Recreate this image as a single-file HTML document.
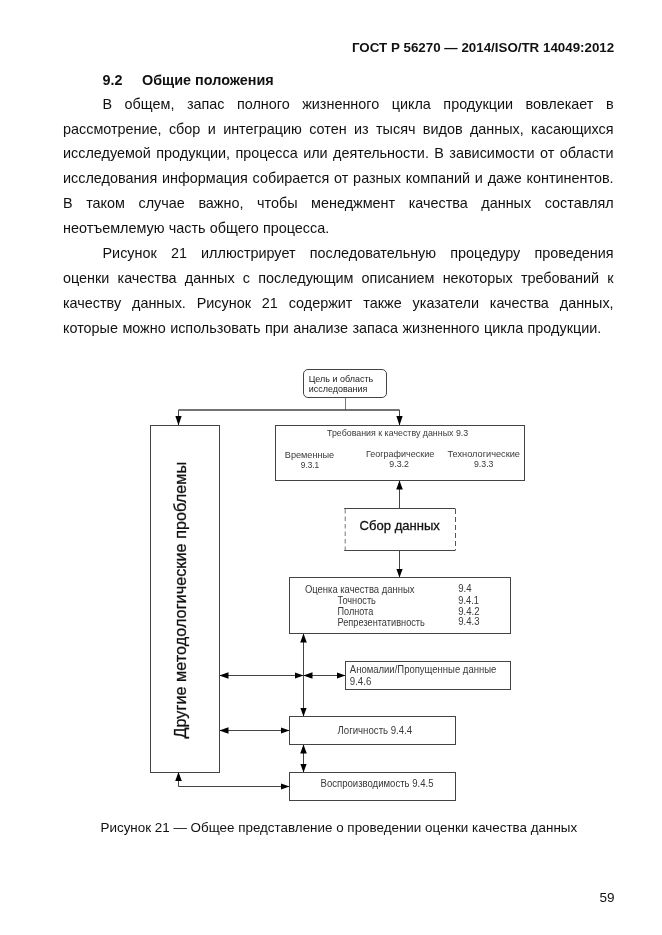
<!DOCTYPE html>
<html><head><meta charset="utf-8">
<style>
html,body{margin:0;padding:0;background:#fff;}
html{filter:grayscale(1);}
body{width:662px;height:935px;position:relative;overflow:hidden;font-family:"Liberation Sans",sans-serif;color:#111;}
.hdr{position:absolute;right:47.8px;top:40px;font-size:13.35px;font-weight:bold;line-height:16px;white-space:nowrap;}
.sec{position:absolute;left:102.5px;top:70.5px;font-size:14.4px;font-weight:bold;line-height:18px;white-space:nowrap;}
.sec span{position:absolute;left:39.5px;}
.txt{position:absolute;left:63px;top:0;width:550.6px;height:400px;font-size:14.4px;line-height:24.9px;text-align:justify;}
.txt div{position:absolute;left:0;right:0;text-align:justify;text-align-last:justify;white-space:nowrap;height:24.9px;}
.txt div.ind{padding-left:39.5px;}
.txt div.last{text-align-last:left;}
.cap{position:absolute;left:100.5px;top:820px;font-size:13.42px;line-height:16px;white-space:nowrap;}
.pg{position:absolute;right:47.6px;top:890px;font-size:13.5px;line-height:16px;}
svg{position:absolute;left:0;top:0;}
svg text{font-family:"Liberation Sans",sans-serif;}
</style></head><body>
<div class="hdr">ГОСТ Р 56270 — 2014/ISO/TR 14049:2012</div>
<div class="sec">9.2<span>Общие положения</span></div>
<div class="txt" style="top:0">
<div class="ind" style="top:92px;">В общем, запас полного жизненного цикла продукции вовлекает в</div>
<div class="" style="top:117px;">рассмотрение, сбор и интеграцию сотен из тысяч видов данных, касающихся</div>
<div class="" style="top:141px;">исследуемой продукции, процесса или деятельности. В зависимости от области</div>
<div class="" style="top:166px;">исследования информация собирается от разных компаний и даже континентов.</div>
<div class="" style="top:191px;">В таком случае важно, чтобы менеджмент качества данных составлял</div>
<div class="last" style="top:216px;word-spacing:0.25px;">неотъемлемую часть общего процесса.</div>
<div class="ind" style="top:241px;">Рисунок 21 иллюстрирует последовательную процедуру проведения</div>
<div class="" style="top:266px;">оценки качества данных с последующим описанием некоторых требований к</div>
<div class="" style="top:291px;">качеству данных. Рисунок 21 содержит также указатели качества данных,</div>
<div class="last" style="top:316px;word-spacing:0.45px;">которые можно использовать при анализе запаса жизненного цикла продукции.</div>
</div>

<svg width="662" height="935" viewBox="0 0 662 935">
<defs>
<marker id="ah" viewBox="0 0 9 6.6" refX="9" refY="3.3" markerWidth="9" markerHeight="6.6" markerUnits="userSpaceOnUse" orient="auto-start-reverse">
<path d="M0,0 L9,3.3 L0,6.6 z" fill="#000"/>
</marker>
<marker id="ahl" viewBox="0 0 10 6.6" refX="10" refY="3.3" markerWidth="10" markerHeight="6.6" markerUnits="userSpaceOnUse" orient="auto-start-reverse">
<path d="M0,0 L10,3.3 L0,6.6 z" fill="#000"/>
</marker>
</defs>
<g fill="none" stroke="#444" stroke-width="1">
<!-- goal box -->
<rect x="303.5" y="369.5" width="83" height="28" rx="4.5"/>
<line x1="345.5" y1="397.5" x2="345.5" y2="410" stroke="#777"/>
<line x1="178.5" y1="410" x2="399.5" y2="410" stroke-width="1.4"/>
<line x1="178.5" y1="410" x2="178.5" y2="425.5" marker-end="url(#ahl)"/>
<line x1="399.5" y1="410" x2="399.5" y2="425.5" marker-end="url(#ahl)"/>
<!-- left box -->
<rect x="150.5" y="425.5" width="69" height="347"/>
<!-- requirements -->
<rect x="275.5" y="425.5" width="249" height="55"/>
<line x1="399.5" y1="508" x2="399.5" y2="480.5" marker-end="url(#ah)"/>
<!-- collect -->
<line x1="344.2" y1="508.5" x2="455.5" y2="508.5"/>
<line x1="344.2" y1="550.5" x2="455.5" y2="550.5"/>
<line x1="345.2" y1="509" x2="345.2" y2="550" stroke-dasharray="4.5,3" stroke="#777"/>
<line x1="455.5" y1="509" x2="455.5" y2="550" stroke-dasharray="5,3" stroke="#555"/>
<line x1="399.5" y1="550.5" x2="399.5" y2="577.5" marker-end="url(#ah)"/>
<!-- assessment -->
<rect x="289.5" y="577.5" width="221" height="56"/>
<line x1="303.5" y1="633.5" x2="303.5" y2="716.5" marker-start="url(#ah)" marker-end="url(#ah)"/>
<line x1="219.5" y1="675.5" x2="303.5" y2="675.5" marker-start="url(#ah)" marker-end="url(#ah)"/>
<line x1="303.5" y1="675.5" x2="345.5" y2="675.5" marker-start="url(#ah)" marker-end="url(#ah)"/>
<rect x="345.5" y="661.5" width="165" height="28"/>
<!-- logic -->
<rect x="289.5" y="716.5" width="166" height="28"/>
<line x1="219.5" y1="730.5" x2="289.5" y2="730.5" marker-start="url(#ah)" marker-end="url(#ah)"/>
<line x1="303.5" y1="744.5" x2="303.5" y2="772.5" marker-start="url(#ah)" marker-end="url(#ah)"/>
<!-- repro -->
<rect x="289.5" y="772.5" width="166" height="28"/>
<polyline points="178.5,772 178.5,786.5 289.5,786.5" marker-start="url(#ah)" marker-end="url(#ah)"/>
</g>
<g font-size="9.8" fill="#383838">
<text fill="#1a1a1a" x="308.7" y="382.2" textLength="64.5" lengthAdjust="spacingAndGlyphs">Цель и область</text>
<text fill="#1a1a1a" x="308.7" y="391.6" textLength="58.7" lengthAdjust="spacingAndGlyphs">исследования</text>
<text x="327.0" y="436.4" textLength="141.2" lengthAdjust="spacingAndGlyphs">Требования к качеству данных 9.3</text>
<text x="284.8" y="457.6" textLength="49.4" lengthAdjust="spacingAndGlyphs">Временные</text>
<text x="300.8" y="467.5" textLength="18.4" lengthAdjust="spacingAndGlyphs">9.3.1</text>
<text x="366.0" y="457.4" textLength="68.3" lengthAdjust="spacingAndGlyphs">Географические</text>
<text x="389.3" y="467.4" textLength="19.7" lengthAdjust="spacingAndGlyphs">9.3.2</text>
<text x="447.5" y="457.0" textLength="72.5" lengthAdjust="spacingAndGlyphs">Технологические</text>
<text x="474.0" y="467.2" textLength="19.5" lengthAdjust="spacingAndGlyphs">9.3.3</text>
</g>
<text x="359.6" y="530.3" font-size="13.05" fill="#111" stroke="#111" stroke-width="0.3">Сбор данных</text>
<g font-size="10" fill="#383838">
<text x="304.9" y="592.7" textLength="109.6" lengthAdjust="spacingAndGlyphs">Оценка качества данных</text>
<text x="337.5" y="603.7" textLength="38.4" lengthAdjust="spacingAndGlyphs">Точность</text>
<text x="337.5" y="614.8" textLength="35.7" lengthAdjust="spacingAndGlyphs">Полнота</text>
<text x="337.5" y="625.5" textLength="87.4" lengthAdjust="spacingAndGlyphs">Репрезентативность</text>
<text x="458.3" y="592.4" textLength="13.3" lengthAdjust="spacingAndGlyphs">9.4</text>
<text x="458.3" y="603.9" textLength="20.6" lengthAdjust="spacingAndGlyphs">9.4.1</text>
<text x="458.3" y="614.8" textLength="21.3" lengthAdjust="spacingAndGlyphs">9.4.2</text>
<text x="458.3" y="625.3" textLength="21.3" lengthAdjust="spacingAndGlyphs">9.4.3</text>
<text x="349.8" y="673.4" textLength="146.5" lengthAdjust="spacingAndGlyphs">Аномалии/Пропущенные данные</text>
<text x="349.8" y="685" textLength="21.5" lengthAdjust="spacingAndGlyphs">9.4.6</text>
<text x="337.5" y="734.2" textLength="74.7" lengthAdjust="spacingAndGlyphs">Логичность 9.4.4</text>
<text x="320.5" y="787.4" textLength="113.0" lengthAdjust="spacingAndGlyphs">Воспроизводимость 9.4.5</text>
</g>
<text transform="translate(185.6,738.6) rotate(-90)" font-size="16.3" fill="#111" stroke="#111" stroke-width="0.28">Другие методологические проблемы</text>
</svg>

<div class="cap">Рисунок 21 — Общее представление о проведении оценки качества данных</div>
<div class="pg">59</div>
</body></html>
